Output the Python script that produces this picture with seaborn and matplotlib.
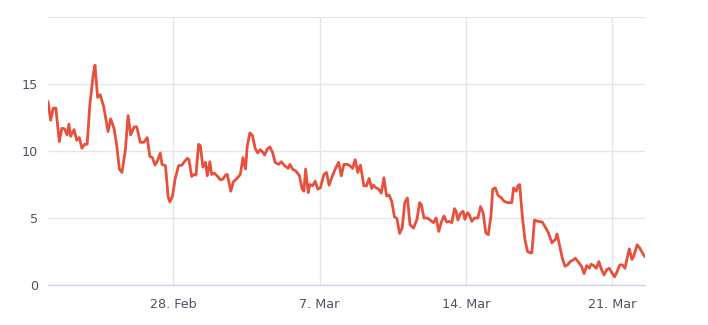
import pandas as pd
import numpy as np
import matplotlib
matplotlib.use("Agg")
import matplotlib.pyplot as plt
import matplotlib.dates as mdates
import seaborn as sns

start = "2021-02-22 00:00"
hours = [0, 3, 6, 9, 13, 16, 19, 22, 24, 26, 30, 33, 36, 39, 42, 45, 48, 52, 54, 57,
         60, 64, 69, 72, 76, 79, 82, 85, 89, 92, 95, 99, 102, 106, 110, 114, 117, 120, 123, 126,
         129, 131, 135, 138, 140, 143, 146, 150, 154, 156, 160, 162, 165, 168, 170, 173, 175, 178, 181, 183,
         186, 188, 191, 195, 198, 201, 204, 206, 208, 210, 213, 217, 221, 224, 227, 229, 232, 235, 238, 241,
         244, 247, 249, 252, 255, 258, 261, 265, 268, 272, 276, 278, 281, 285, 289, 292, 294, 296, 299, 301,
         304, 307, 310, 313, 317, 320, 323, 326, 330, 334, 337, 340, 344, 347, 350, 353, 356, 359, 363, 366,
         369, 372, 374, 377, 380, 383, 386, 389, 392, 395, 398, 401, 404, 407, 410, 413, 416, 420, 424, 427,
         429, 432, 436, 439, 443, 446, 449, 452, 455, 458, 461, 464, 467, 469, 471, 474, 477, 479, 482, 484,
         487, 490, 494, 497, 500, 503, 506, 509, 511, 514, 517, 521, 524, 528, 533, 535, 538, 540, 542, 545,
         548, 551, 554, 556, 559, 563, 568, 572, 575, 579, 583, 585, 588, 591, 594, 597, 600, 603, 606, 609,
         613, 616, 619, 622, 624, 627, 630, 633, 636, 639, 642, 645, 648, 651, 654, 657, 660, 663, 666, 668,
         671, 673, 677, 680, 683, 686]
values = [13.7, 12.3, 13.2, 13.2, 10.7, 11.7, 11.65, 11.2, 12.0, 11.1, 11.6, 10.8, 11.0, 10.2, 10.5, 10.5, 13.4, 15.7, 16.4, 14.0,
          14.2, 13.3, 11.45, 12.4, 11.65, 10.4, 8.65, 8.4, 10.15, 12.65, 11.2, 11.8, 11.8, 10.65, 10.65, 11.0, 9.6, 9.5, 8.95, 9.3,
          9.85, 9.0, 8.9, 6.6, 6.2, 6.6, 7.9, 8.9, 8.95, 9.15, 9.45, 9.35, 8.1, 8.25, 8.2, 10.5, 10.4, 8.8, 9.15, 8.15,
          9.2, 8.25, 8.35, 8.1, 7.85, 7.9, 8.2, 8.25, 7.65, 7.0, 7.7, 7.95, 8.25, 9.5, 8.65, 10.4, 11.35, 11.15, 10.2, 9.85,
          10.1, 9.9, 9.7, 10.15, 10.3, 9.9, 9.15, 9.0, 9.2, 8.9, 8.7, 9.0, 8.65, 8.5, 8.15, 7.15, 7.0, 8.65, 6.9, 7.5,
          7.4, 7.75, 7.15, 7.25, 8.25, 8.4, 7.45, 8.0, 8.65, 9.15, 8.15, 9.0, 9.0, 8.9, 8.7, 9.35, 8.4, 8.95, 7.4, 7.4,
          7.95, 7.2, 7.45, 7.25, 7.15, 6.85, 8.0, 6.65, 6.7, 6.25, 5.1, 4.95, 3.85, 4.25, 6.15, 6.5, 4.5, 4.25, 4.9, 6.15,
          6.0, 5.0, 5.0, 4.85, 4.65, 5.0, 4.0, 4.7, 5.15, 4.7, 4.75, 4.65, 5.7, 5.5, 4.85, 5.35, 5.5, 4.9, 5.4, 5.25,
          4.75, 5.0, 5.0, 5.85, 5.4, 3.9, 3.75, 5.15, 7.15, 7.25, 6.7, 6.5, 6.25, 6.15, 6.15, 7.25, 7.0, 7.4, 7.5, 5.15,
          3.4, 2.5, 2.4, 2.4, 4.85, 4.75, 4.7, 4.25, 3.9, 3.15, 3.4, 3.8, 2.9, 2.0, 1.4, 1.5, 1.75, 1.85, 2.0, 1.75,
          1.4, 0.85, 1.45, 1.25, 1.55, 1.45, 1.25, 1.75, 1.15, 0.75, 1.15, 1.25, 0.9, 0.6, 1.0, 1.5, 1.5, 1.25, 2.15, 2.7,
          1.9, 2.15, 3.0, 2.75, 2.4, 2.1]

y_ticks = [0, 5, 10, 15, 20]
y_tick_labels = ["0", "5", "10", "15", ""]

df = pd.DataFrame({
    "time": pd.Timestamp(start) + pd.to_timedelta(hours, unit="h"),
    "value": values,
})

sns.set_style("white")
plt.rcParams["font.family"] = ["DejaVu Sans"]

fig = plt.figure(figsize=(7.08, 3.25), dpi=100)
ax = fig.add_axes([48 / 708, 1 - 285 / 325, (645 - 48) / 708, (285 - 17) / 325])

sns.lineplot(data=df, x="time", y="value", ax=ax, color="#e8503e", linewidth=2.0)
for ln in ax.get_lines():
    ln.set_solid_joinstyle("round")
    ln.set_solid_capstyle("round")

ax.set_xlim(df["time"].iloc[0], df["time"].iloc[-1])
ax.set_ylim(0, 20)
ax.set_yticks(y_ticks)
ax.set_yticklabels(y_tick_labels)
ax.xaxis.set_major_locator(mdates.WeekdayLocator(byweekday=mdates.SU))
ax.xaxis.set_major_formatter(mdates.DateFormatter("%-d. %b"))

ax.grid(True, axis="both", color="#e6e6e6", linewidth=1)
ax.set_axisbelow(True)
for s in ["top", "right", "left"]:
    ax.spines[s].set_visible(False)
ax.spines["bottom"].set_color("#ccd6eb")
ax.spines["bottom"].set_linewidth(1)

ax.tick_params(axis="x", length=7.2, width=1, color="#ccd6eb", pad=2,
               labelsize=9.2, labelcolor="#4a5466", direction="out")
ax.tick_params(axis="y", length=0, pad=7, labelsize=9.2, labelcolor="#4a5466")
ax.set_xlabel("")
ax.set_ylabel("")

fig.savefig("out.png", dpi=100)
